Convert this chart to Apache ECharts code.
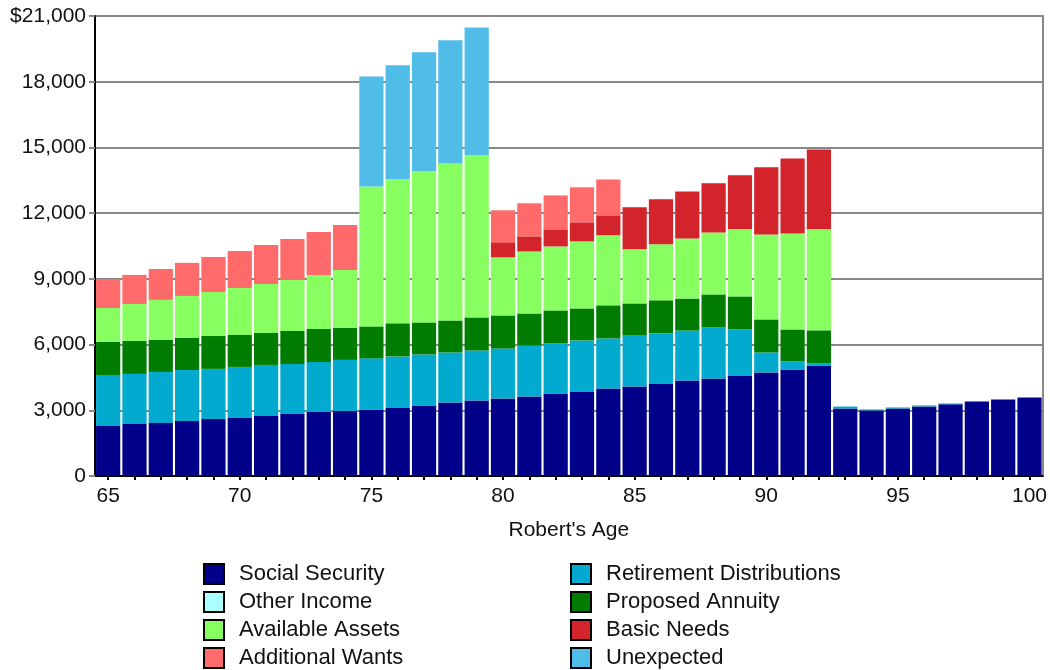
<!DOCTYPE html>
<html>
<head>
<meta charset="utf-8">
<title>Retirement Income by Age</title>
<script src="https://cdn.jsdelivr.net/npm/echarts@6/dist/echarts.min.js"></script>
<style>
  html, body { margin: 0; padding: 0; background: #fff; }
  #chart { width: 1050px; height: 670px; }
</style>
</head>
<body>
<div id="chart"></div>
<script>
// Robert's ages, one bar each
const ages = [65,66,67,68,69,70,71,72,73,74,75,76,77,78,79,80,81,82,83,84,85,86,87,88,89,90,91,92,93,94,95,96,97,98,99,100];

// Yearly amounts (dollars) for each income / need source
const socialSecurity = [2280,2370,2420,2510,2600,2650,2740,2830,2920,2970,3040,3130,3220,3360,3450,3540,3630,3770,3860,4000,4090,4220,4360,4450,4590,4730,4860,5050,3080,2990,3080,3170,3270,3400,3490,3580];
const retirementDistributions = [2330,2290,2330,2330,2290,2330,2330,2280,2280,2330,2330,2330,2330,2280,2280,2280,2330,2280,2330,2280,2330,2290,2280,2330,2100,910,370,90,90,50,50,50,40,0,0,0];
const otherIncome = [];
const proposedAnnuity = [1510,1500,1460,1460,1500,1460,1460,1510,1510,1460,1460,1510,1460,1460,1510,1510,1460,1510,1460,1510,1460,1510,1460,1510,1510,1510,1460,1510,0,0,0,0,0,0,0,0];
const availableAssets = [1550,1690,1830,1920,2010,2140,2240,2330,2470,2650,6390,6580,6900,7170,7400,2650,2830,2920,3060,3200,2470,2560,2740,2830,3060,3880,4380,4610,0,0,0,0,0,0,0,0];
const basicNeeds = [0,0,0,0,0,0,0,0,0,0,0,0,0,0,0,690,690,780,870,910,1920,2050,2150,2240,2470,3060,3430,3650,0,0,0,0,0,0,0,0];
const additionalWants = [1320,1330,1410,1510,1600,1690,1780,1870,1960,2050,0,0,0,0,0,1460,1510,1550,1600,1640,0,0,0,0,0,0,0,0,0,0,0,0,0,0,0,0];
const unexpected = [0,0,0,0,0,0,0,0,0,0,5020,5200,5430,5620,5840,0,0,0,0,0,0,0,0,0,0,0,0,0,0,0,0,0,0,0,0,0];

// Value axis ticks
const yMax = 21000;
const yStep = 3000;

const FONT = "'Liberation Sans', Arial, sans-serif";

const seriesDefs = [
  { name: 'Social Security',          data: socialSecurity,          color: '#000088' },
  { name: 'Retirement Distributions', data: retirementDistributions, color: '#03AAD0' },
  { name: 'Other Income',             data: otherIncome,             color: '#AAFFFF' },
  { name: 'Proposed Annuity',         data: proposedAnnuity,         color: '#007D00' },
  { name: 'Available Assets',         data: availableAssets,         color: '#88FF60' },
  { name: 'Basic Needs',              data: basicNeeds,              color: '#D3232B' },
  { name: 'Additional Wants',         data: additionalWants,         color: '#FF6A6A' },
  { name: 'Unexpected',               data: unexpected,              color: '#50BDE9' }
];

function withCommas(v) {
  return String(v).replace(/\B(?=(\d{3})+(?!\d))/g, ',');
}

const legendCommon = {
  orient: 'vertical',
  top: 563,
  height: 107,
  padding: 0,
  icon: 'rect',
  itemWidth: 20,
  itemHeight: 20,
  itemGap: 6,
  selectedMode: false,
  itemStyle: { borderColor: '#000', borderWidth: 2 },
  textStyle: { fontFamily: FONT, fontSize: 22, color: '#111', padding: [0, 0, 0, 10], lineHeight: 22 }
};

const option = {
  animation: false,
  backgroundColor: '#fff',
  textStyle: { fontFamily: FONT },
  grid: { left: 95, right: 5, top: 16, bottom: 194, containLabel: false },
  legend: [
    Object.assign({}, legendCommon, { left: 203, data: ['Social Security', 'Other Income', 'Available Assets', 'Additional Wants'] }),
    Object.assign({}, legendCommon, { left: 570, data: ['Retirement Distributions', 'Proposed Annuity', 'Basic Needs', 'Unexpected'] })
  ],
  xAxis: {
    type: 'category',
    data: ages,
    boundaryGap: true,
    name: "Robert's Age",
    nameLocation: 'middle',
    nameGap: 44,
    nameTextStyle: { fontFamily: FONT, fontSize: 21, color: '#111' },
    axisLine: { show: true, lineStyle: { color: '#000', width: 2 } },
    axisTick: { show: true, alignWithLabel: true, interval: 0, length: 4, lineStyle: { color: '#000', width: 2 } },
    axisLabel: {
      interval: function (i, v) { return Number(v) % 5 === 0; },
      margin: 10,
      fontFamily: FONT, fontSize: 21, color: '#111'
    },
    splitLine: { show: false }
  },
  yAxis: [
    {
      type: 'value',
      min: 0,
      max: yMax,
      interval: yStep,
      axisLine: { show: true, lineStyle: { color: '#000', width: 2 } },
      axisTick: { show: true, length: 6, lineStyle: { color: '#888', width: 2 } },
      axisLabel: {
        margin: 9,
        fontFamily: FONT, fontSize: 21, color: '#111',
        formatter: function (v) { return v === yMax ? '$' + withCommas(v) : withCommas(v); }
      },
      splitLine: { show: true, lineStyle: { color: '#888', width: 2 } }
    },
    {
      type: 'value',
      position: 'right',
      min: 0,
      max: yMax,
      interval: yStep,
      axisLine: { show: true, lineStyle: { color: '#888', width: 2 } },
      axisTick: { show: false },
      axisLabel: { show: false },
      splitLine: { show: false }
    }
  ],
  series: seriesDefs.map(function (s) {
    return {
      name: s.name,
      type: 'bar',
      stack: 'total',
      yAxisIndex: 0,
      data: s.data,
      barCategoryGap: '8%',
      itemStyle: { color: s.color },
      emphasis: { disabled: true }
    };
  })
};

const chart = echarts.init(document.getElementById('chart'), null, { renderer: 'canvas' });
chart.setOption(option);
</script>
</body>
</html>
